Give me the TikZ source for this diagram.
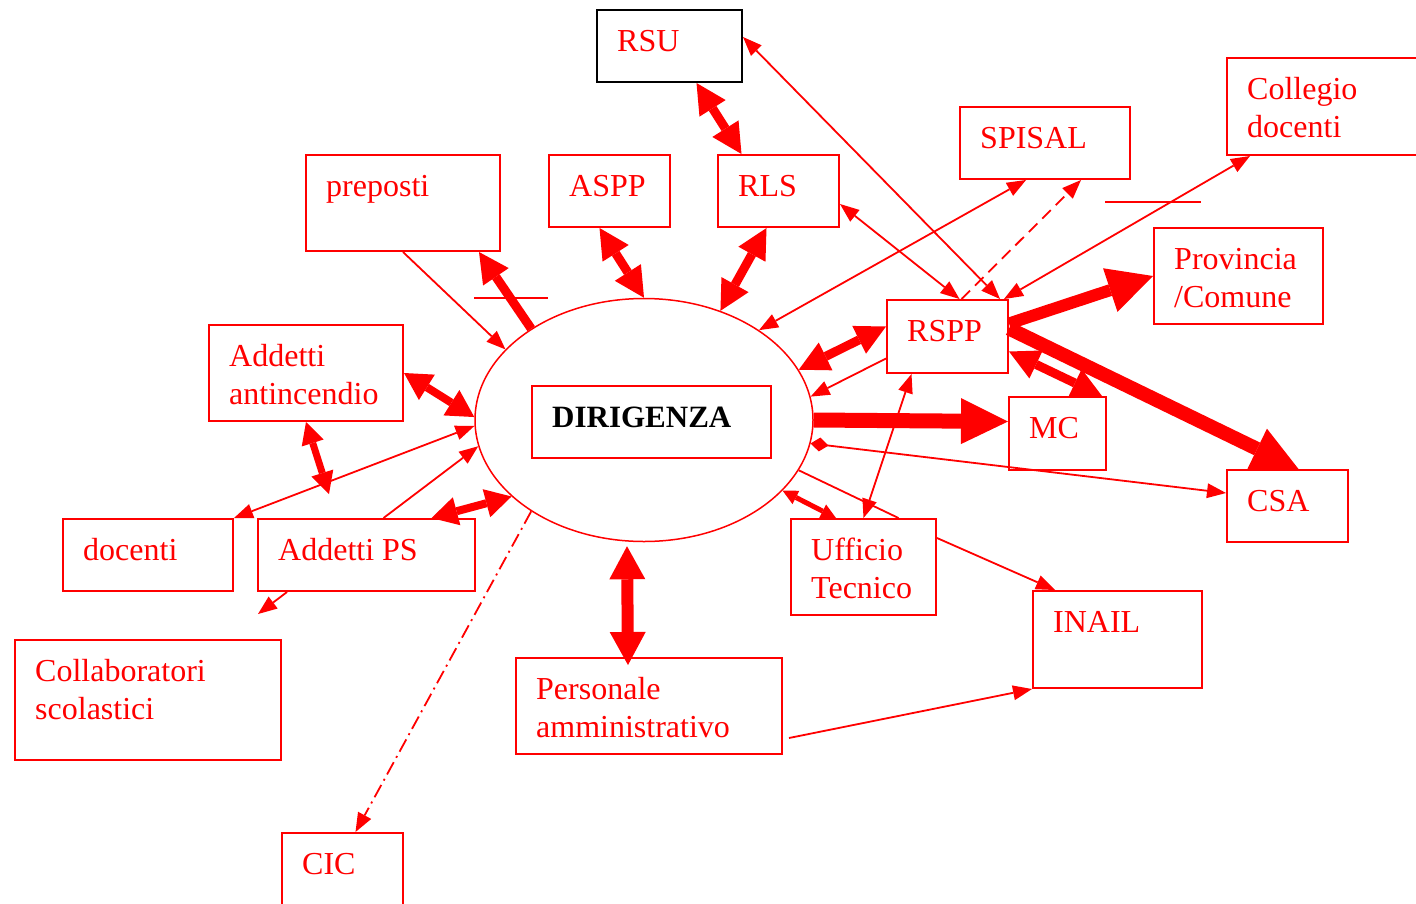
\documentclass[tikz,border=0pt]{standalone}
\usepackage{fontspec}
\setmainfont{Liberation Serif}
\usetikzlibrary{arrows.meta,shapes.geometric}
\begin{document}
\begin{tikzpicture}[x=1pt, y=-1pt,
    box/.style={draw=red, line width=2pt, anchor=north west, inner sep=0pt},
    lbl/.style={anchor=base west, text=red, align=left, inner sep=0pt, font=\fontsize{32}{38.5}\selectfont},
    lnk/.style={red, line width=1.8pt, >={Triangle[length=19pt,width=15pt,line width=0pt]}},
    big/.style={red, line width=9pt, >={Triangle[length=30pt,width=31pt,line width=0pt]}}]
    \useasboundingbox (0,0) rectangle (1416,903);
    % Nodes
    \node[draw=red, line width=1.5pt, ellipse, inner sep=0pt, minimum width=338pt, minimum height=243pt] (dir) at (644,420) {};
    \node[box, minimum width=239pt, minimum height=72pt] (dirbox) at (531,385) {};
    \node[box, draw=black, minimum width=145pt, minimum height=72pt] (rsu) at (596,9) {};
    \node[box, minimum width=121pt, minimum height=72pt] (aspp) at (548,154) {};
    \node[box, minimum width=121pt, minimum height=72pt] (rls) at (717,154) {};
    \node[box, minimum width=194pt, minimum height=96pt] (prep) at (305,154) {};
    \node[box, minimum width=170pt, minimum height=72pt] (spisal) at (959,106) {};
    \node[box, minimum width=230pt, minimum height=97pt] (coll) at (1226,57) {};
    \node[box, minimum width=169pt, minimum height=96pt] (prov) at (1153,227) {};
    \node[box, minimum width=121pt, minimum height=73pt] (rspp) at (886,299) {};
    \node[box, minimum width=97pt, minimum height=73pt] (mc) at (1008,396) {};
    \node[box, minimum width=121pt, minimum height=72pt] (csa) at (1226,469) {};
    \node[box, minimum width=194pt, minimum height=96pt] (antinc) at (208,324) {};
    \node[box, minimum width=170pt, minimum height=72pt] (doc) at (62,518) {};
    \node[box, minimum width=217pt, minimum height=72pt] (aps) at (257,518) {};
    \node[box, minimum width=266pt, minimum height=120pt] (collab) at (14,639) {};
    \node[box, minimum width=121pt, minimum height=96pt] (cic) at (281,832) {};
    \node[box, minimum width=266pt, minimum height=96pt] (pers) at (515,657) {};
    \node[box, minimum width=145pt, minimum height=96pt] (uff) at (790,518) {};
    \node[box, minimum width=169pt, minimum height=97pt] (inail) at (1032,590) {};
    % Texts (two-line texts sit on their last baseline)
    \node[lbl, text=black, font=\fontsize{31}{38}\selectfont\bfseries] (dir-t) at ([shift={(21pt,-42pt)}]dirbox.north west) {DIRIGENZA};
    \node[lbl] (rsu-t) at ([shift={(21pt,-42pt)}]rsu.north west) {RSU};
    \node[lbl] (aspp-t) at ([shift={(21pt,-42pt)}]aspp.north west) {ASPP};
    \node[lbl] (rls-t) at ([shift={(21pt,-42pt)}]rls.north west) {RLS};
    \node[lbl] (prep-t) at ([shift={(21pt,-42pt)}]prep.north west) {preposti};
    \node[lbl] (spisal-t) at ([shift={(21pt,-42pt)}]spisal.north west) {SPISAL};
    \node[lbl] (coll-t) at ([shift={(21pt,-80.5pt)}]coll.north west) {Collegio\\docenti};
    \node[lbl] (prov-t) at ([shift={(21pt,-80.5pt)}]prov.north west) {Provincia\\/Comune};
    \node[lbl] (rspp-t) at ([shift={(21pt,-42pt)}]rspp.north west) {RSPP};
    \node[lbl] (mc-t) at ([shift={(21pt,-42pt)}]mc.north west) {MC};
    \node[lbl] (csa-t) at ([shift={(21pt,-42pt)}]csa.north west) {CSA};
    \node[lbl] (antinc-t) at ([shift={(21pt,-80.5pt)}]antinc.north west) {Addetti\\antincendio};
    \node[lbl] (doc-t) at ([shift={(21pt,-42pt)}]doc.north west) {docenti};
    \node[lbl] (aps-t) at ([shift={(21pt,-42pt)}]aps.north west) {Addetti PS};
    \node[lbl] (collab-t) at ([shift={(21pt,-80.5pt)}]collab.north west) {Collaboratori\\scolastici};
    \node[lbl] (cic-t) at ([shift={(21pt,-42pt)}]cic.north west) {CIC};
    \node[lbl] (pers-t) at ([shift={(21pt,-80.5pt)}]pers.north west) {Personale\\amministrativo};
    \node[lbl] (uff-t) at ([shift={(21pt,-80.5pt)}]uff.north west) {Ufficio\\Tecnico};
    \node[lbl] (inail-t) at ([shift={(21pt,-42pt)}]inail.north west) {INAIL};
    \coordinate (cross) at (329,494);
    \coordinate (gap) at (258,614);
    % Edges
    \draw[big, <->] ([xshift=27pt]rsu.south) -- ([xshift=-37pt]rls.north);
    \draw[big, <->] ([xshift=-10pt]aspp.south) -- (dir.90);
    \draw[big, <->] ([xshift=-12pt]rls.south) -- (dir.55);
    \draw[big, ->] (dir.141) -- ([xshift=-22pt]prep.south east);
    \draw[lnk, ->] (prep.south) -- (dir.153);
    \draw[lnk, <->] ([yshift=9pt]rsu.east) -- ([xshift=-9pt]rspp.north east);
    \draw[lnk, <->] ([yshift=-13pt]rls.east) -- ([xshift=12pt]rspp.north);
    \draw[lnk, <->] ([xshift=-19pt]spisal.south) -- (dir.38);
    \draw[lnk, ->, dash pattern=on 12pt off 7pt] ([xshift=14pt]rspp.north) -- ([xshift=36pt]spisal.south); % dashed
    \draw[lnk, <->] ([xshift=-5pt]rspp.north east) -- ([xshift=24pt]coll.south west);
    \draw[big, ->, line width=12pt, >={Triangle[length=45pt,width=46pt,line width=0pt]}] ([yshift=13pt]rspp.east) -- (prov.west);
    \draw[big, ->, line width=14pt, >={Triangle[length=46pt,width=45pt,line width=0pt]}] ([yshift=8pt]rspp.east) -- ([xshift=11pt]csa.north);
    \draw[big, <->] ([yshift=-15pt]rspp.east) -- ([xshift=-5pt]mc.north east);
    \draw[big, ->, line width=15pt, >={Triangle[length=47pt,width=46pt,line width=0pt]}] (dir.0) -- ([yshift=12pt]mc.west);
    \draw[big, <->] (dir.18) -- ([yshift=10pt]rspp.west);
    \draw[lnk, ->] ([yshift=-22pt]rspp.west) -- (dir.8);
    \draw[lnk, <->] ([xshift=-36pt]rspp.south) -- (uff.north);
    \draw[big, <->, line width=5pt, >={Triangle[length=15pt,width=15pt,line width=0pt]}] (dir.333) -- ([xshift=46pt]uff.north west);
    \draw[lnk] (dir.342) -- ([xshift=35pt]uff.north);
    \draw[lnk, ->] ([yshift=29pt]uff.east) -- ([xshift=23pt]inail.north west);
    \draw[lnk, {Diamond[length=18pt,width=14pt,line width=0pt]}->] (dir.352) -- ([yshift=13pt]csa.west);
    \draw[lnk, ->] ([shift={(6pt,-32pt)}]pers.east) -- (inail.south west);
    \draw[big, <->, line width=12pt, >={Triangle[length=33pt,width=36pt,line width=0pt]}] ([shift={(-17pt,-4pt)}]dir.south) -- ([shift={(-21pt,-8pt)}]pers.north);
    \draw[lnk, ->, dash pattern=on 14pt off 5pt on 2pt off 5pt] (dir.219) -- ([xshift=13pt]cic.north); % dash-dot
    \draw[big, <->, line width=8pt, >={Triangle[length=26pt,width=29pt,line width=0pt]}] ([xshift=65pt]aps.north) -- (dir.210);
    \draw[lnk, ->] ([xshift=17pt]aps.north) -- (dir.189);
    \draw[big, <->, line width=8pt, >={Triangle[length=27pt,width=30pt,line width=0pt]}] (antinc.east) -- (dir.179);
    \draw[big, <->, line width=7pt, >={Triangle[length=22pt,width=23pt,line width=0pt]}] (antinc.south) -- (cross);
    \draw[lnk, <->] (dir.182) -- (doc.north east);
    \draw[lnk, ->] ([xshift=30pt]aps.south west) -- (gap);
    % loose strokes
    \draw[red, line width=1.5pt] (474,298) -- (548,298);
    \draw[red, line width=1.5pt] (1105,202) -- (1201,202);
\end{tikzpicture}
\end{document}
